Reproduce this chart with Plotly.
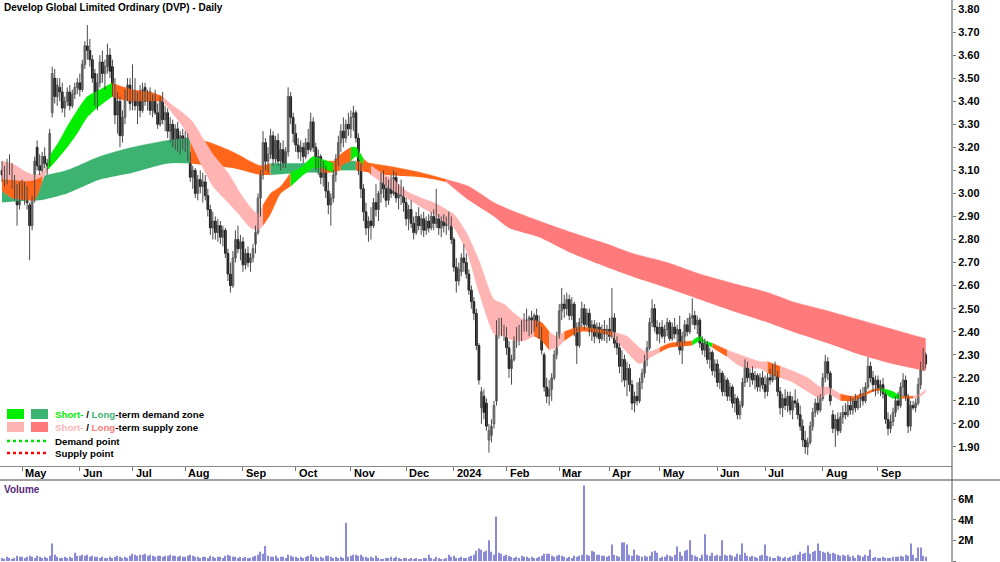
import numpy as np
import pandas as pd
import plotly.graph_objects as go

TITLE = "Develop Global Limited Ordinary (DVP) - Daily"
FIRST_DAY, LAST_DAY = "2023-04-18", "2024-09-27"
ASX_HOLIDAYS = ["2023-04-25", "2023-06-12", "2023-12-25", "2023-12-26", "2024-01-01",
                "2024-01-26", "2024-03-29", "2024-04-01", "2024-04-25", "2024-06-10"]

# ---------------- daily OHLC (A$), one line per month ----------------
OPEN = [
    3.10,3.08,3.05,3.12,3.10,3.04,3.00,2.95,
    3.02,3.00,3.02,2.95,2.86,2.97,3.20,3.12,3.10,3.16,3.13,3.13,3.35,3.50,3.42,3.46,3.44,3.37,3.40,3.44,3.38,3.43,3.46,
    3.48,3.45,3.56,3.64,3.62,3.58,3.52,3.42,3.48,3.57,3.52,3.55,3.60,3.55,3.45,3.34,3.40,3.25,3.33,3.42,3.47,
    3.40,3.44,3.38,3.42,3.36,3.46,3.40,3.44,3.36,3.42,3.35,3.30,3.40,3.32,3.35,3.27,3.30,3.23,3.28,3.21,3.25,
    3.22,3.24,3.16,3.07,3.10,3.00,3.06,3.03,3.05,2.99,2.93,2.85,2.88,2.83,2.86,2.81,2.84,2.74,2.65,2.60,2.72,2.80,2.76,
    2.79,2.69,2.74,2.70,2.72,2.78,2.83,2.98,3.08,3.22,3.14,3.17,3.25,3.15,3.23,3.14,3.19,3.13,3.18,3.42,3.33,
    3.26,3.21,3.18,3.20,3.16,3.22,3.19,3.31,3.20,3.12,3.16,3.07,3.10,3.01,2.95,2.98,3.08,3.15,3.22,3.27,3.24,3.30,
    3.28,3.33,3.35,3.24,3.10,3.02,2.92,2.85,2.88,2.86,2.96,2.93,3.00,3.05,3.02,2.97,3.04,3.00,3.07,2.98,3.02,2.99,
    2.96,2.89,2.93,2.87,2.83,2.90,2.86,2.89,2.84,2.88,2.85,2.90,2.87,2.89,2.85,2.88,2.86,2.89,2.88,
    2.80,2.68,2.62,2.66,2.72,2.70,2.65,2.58,2.53,2.48,2.34,2.07,2.12,2.09,1.93,1.95,2.00,2.10,2.42,2.44,2.40,
    2.41,2.33,2.24,2.28,2.36,2.40,2.37,2.43,2.45,2.42,2.46,2.41,2.47,2.44,2.39,2.30,2.16,2.12,2.15,2.20,2.30,
    2.38,2.49,2.52,2.50,2.54,2.47,2.52,2.40,2.34,2.44,2.50,2.43,2.48,2.40,2.43,2.38,2.42,2.37,2.41,2.39,
    2.41,2.38,2.46,2.35,2.33,2.25,2.28,2.19,2.24,2.17,2.09,2.12,2.10,2.18,2.22,2.28,2.33,2.44,2.50,2.42,
    2.39,2.42,2.38,2.41,2.44,2.37,2.42,2.39,2.41,2.32,2.38,2.43,2.40,2.46,2.47,2.43,2.45,2.35,2.32,2.35,2.28,2.31,2.23,
    2.26,2.18,2.22,2.14,2.19,2.12,2.16,2.09,2.11,2.04,2.08,2.18,2.25,2.20,2.22,2.19,2.21,2.16,2.20,
    2.17,2.14,2.20,2.19,2.24,2.21,2.14,2.07,2.11,2.08,2.12,2.06,2.10,2.09,2.04,1.99,1.93,1.90,1.92,1.99,2.05,2.09,2.06,
    2.11,2.20,2.27,2.22,2.04,1.98,2.02,1.97,2.03,2.05,2.04,2.08,2.06,2.10,2.07,2.11,2.13,2.10,2.16,2.25,2.20,2.17,
    2.19,2.15,2.17,2.13,2.02,1.98,2.01,2.05,2.10,2.08,2.16,2.19,2.12,1.99,2.08,2.07,2.09,2.17,2.25,2.30,
]
HIGH = [
    3.14,3.12,3.15,3.17,3.13,3.08,3.04,3.05,
    3.06,3.05,3.03,2.96,2.99,3.16,3.23,3.17,3.18,3.20,3.15,3.28,3.55,3.54,3.50,3.50,3.48,3.42,3.46,3.47,3.45,3.48,3.50,
    3.52,3.58,3.66,3.73,3.67,3.60,3.54,3.52,3.60,3.62,3.58,3.65,3.63,3.58,3.50,3.44,3.42,3.36,3.45,3.50,3.50,
    3.56,3.50,3.44,3.47,3.48,3.48,3.45,3.46,3.43,3.45,3.39,3.42,3.44,3.38,3.37,3.33,3.32,3.30,3.31,3.27,3.28,
    3.27,3.26,3.18,3.12,3.11,3.08,3.10,3.09,3.08,3.02,2.95,2.92,2.90,2.89,2.88,2.86,2.85,2.76,2.70,2.75,2.84,2.86,2.82,
    2.81,2.76,2.77,2.74,2.78,2.86,3.00,3.10,3.27,3.24,3.20,3.28,3.27,3.25,3.26,3.22,3.23,3.20,3.46,3.44,3.35,
    3.30,3.24,3.23,3.22,3.24,3.28,3.35,3.33,3.22,3.19,3.17,3.14,3.12,3.05,3.00,3.10,3.17,3.25,3.30,3.33,3.32,3.35,
    3.36,3.38,3.36,3.26,3.13,3.04,2.96,2.90,2.94,2.98,3.04,3.01,3.09,3.10,3.07,3.06,3.08,3.10,3.09,3.04,3.06,3.03,
    2.98,2.95,2.97,2.90,2.92,2.94,2.91,2.92,2.90,2.91,2.92,2.93,3.02,2.91,2.90,2.91,2.90,2.92,2.90,
    2.81,2.72,2.70,2.74,2.78,2.74,2.67,2.60,2.55,2.50,2.35,2.16,2.15,2.11,2.00,2.02,2.10,2.45,2.46,2.46,2.43,
    2.42,2.36,2.30,2.38,2.42,2.43,2.45,2.48,2.50,2.47,2.49,2.48,2.50,2.47,2.42,2.31,2.20,2.19,2.22,2.32,2.40,
    2.52,2.59,2.56,2.57,2.56,2.55,2.53,2.44,2.46,2.53,2.52,2.50,2.50,2.45,2.45,2.44,2.44,2.43,2.45,2.43,
    2.46,2.59,2.48,2.38,2.35,2.32,2.30,2.27,2.26,2.19,2.14,2.18,2.20,2.24,2.30,2.36,2.46,2.54,2.52,2.45,
    2.44,2.45,2.43,2.46,2.45,2.44,2.46,2.43,2.47,2.40,2.45,2.46,2.48,2.545,2.49,2.47,2.46,2.38,2.37,2.36,2.33,2.32,2.28,
    2.28,2.24,2.23,2.21,2.20,2.18,2.17,2.13,2.12,2.10,2.20,2.28,2.27,2.24,2.25,2.23,2.22,2.22,2.23,
    2.21,2.22,2.24,2.26,2.27,2.23,2.16,2.13,2.15,2.14,2.14,2.12,2.15,2.11,2.08,2.02,1.97,1.94,2.01,2.07,2.11,2.12,2.13,
    2.22,2.30,2.29,2.23,2.06,2.04,2.05,2.05,2.08,2.09,2.10,2.12,2.11,2.13,2.12,2.15,2.16,2.18,2.29,2.27,2.23,2.21,
    2.21,2.19,2.20,2.14,2.05,2.04,2.07,2.12,2.14,2.18,2.22,2.21,2.13,2.10,2.10,2.11,2.20,2.27,2.33,2.31,
]
LOW = [
    3.05,3.03,3.04,3.08,3.02,2.97,2.86,2.93,
    2.97,2.95,2.93,2.71,2.84,2.96,3.10,3.08,3.09,3.11,3.08,3.12,3.33,3.39,3.38,3.40,3.35,3.33,3.38,3.36,3.37,3.41,3.43,
    3.42,3.44,3.54,3.58,3.55,3.48,3.38,3.36,3.46,3.48,3.45,3.52,3.50,3.42,3.30,3.26,3.20,3.22,3.30,3.40,3.36,
    3.36,3.36,3.30,3.33,3.35,3.38,3.36,3.34,3.33,3.34,3.28,3.29,3.30,3.27,3.24,3.22,3.20,3.19,3.18,3.17,3.19,
    3.18,3.14,3.05,3.02,2.98,2.97,3.00,2.96,2.97,2.90,2.82,2.80,2.80,2.79,2.78,2.77,2.72,2.62,2.57,2.59,2.70,2.74,2.71,
    2.66,2.67,2.68,2.66,2.70,2.74,2.82,2.90,3.06,3.10,3.09,3.15,3.12,3.13,3.12,3.10,3.11,3.11,3.16,3.30,3.22,
    3.18,3.15,3.14,3.13,3.15,3.17,3.18,3.18,3.10,3.08,3.04,3.03,2.98,2.91,2.86,2.96,3.05,3.12,3.18,3.20,3.22,3.25,
    3.24,3.27,3.22,3.08,2.98,2.88,2.82,2.79,2.80,2.85,2.90,2.88,2.96,2.98,2.94,2.95,2.98,2.99,2.96,2.93,2.95,2.92,
    2.86,2.84,2.85,2.80,2.82,2.84,2.82,2.81,2.82,2.83,2.84,2.84,2.85,2.82,2.81,2.83,2.82,2.84,2.78,
    2.66,2.57,2.60,2.64,2.66,2.63,2.56,2.50,2.45,2.32,2.17,2.00,2.02,1.97,1.875,1.92,1.98,2.08,2.37,2.38,2.36,
    2.30,2.20,2.17,2.27,2.33,2.34,2.36,2.40,2.40,2.38,2.39,2.40,2.42,2.37,2.30,2.14,2.09,2.08,2.10,2.19,2.28,
    2.37,2.45,2.46,2.47,2.45,2.45,2.38,2.26,2.33,2.42,2.41,2.42,2.38,2.36,2.35,2.37,2.35,2.36,2.36,2.35,
    2.36,2.37,2.33,2.30,2.22,2.18,2.16,2.12,2.14,2.06,2.05,2.08,2.09,2.15,2.20,2.25,2.32,2.42,2.40,2.36,
    2.35,2.37,2.35,2.38,2.36,2.36,2.37,2.34,2.30,2.26,2.35,2.38,2.39,2.43,2.41,2.39,2.33,2.30,2.29,2.26,2.24,2.21,2.20,
    2.16,2.15,2.12,2.12,2.10,2.10,2.07,2.05,2.02,2.02,2.07,2.16,2.18,2.16,2.17,2.15,2.14,2.14,2.15,
    2.11,2.12,2.17,2.18,2.19,2.12,2.04,2.03,2.06,2.05,2.04,2.02,2.07,2.02,1.97,1.90,1.87,1.865,1.91,1.97,2.03,2.04,2.05,
    2.10,2.18,2.19,2.08,1.96,1.90,1.95,1.96,2.00,2.02,2.03,2.04,2.04,2.05,2.06,2.07,2.08,2.09,2.15,2.18,2.14,2.12,
    2.13,2.12,2.11,2.00,1.95,1.96,1.99,2.03,2.06,2.07,2.12,2.10,1.96,1.97,2.06,2.05,2.08,2.15,2.23,2.24,
]
CLOSE = [
    3.08,3.05,3.13,3.10,3.04,3.00,2.95,3.02,
    3.00,3.03,2.96,2.86,2.97,3.14,3.12,3.10,3.16,3.13,3.12,3.26,3.52,3.42,3.47,3.44,3.37,3.40,3.44,3.38,3.43,3.46,3.48,
    3.45,3.56,3.64,3.62,3.58,3.50,3.42,3.48,3.57,3.52,3.55,3.60,3.53,3.45,3.34,3.40,3.25,3.33,3.42,3.47,3.39,
    3.44,3.38,3.42,3.36,3.45,3.40,3.43,3.36,3.41,3.35,3.30,3.40,3.32,3.35,3.27,3.30,3.23,3.28,3.21,3.25,3.22,
    3.24,3.16,3.07,3.10,3.00,3.06,3.03,3.05,2.99,2.93,2.85,2.88,2.83,2.86,2.81,2.84,2.74,2.65,2.60,2.72,2.80,2.76,2.79,
    2.69,2.74,2.70,2.72,2.76,2.83,2.98,3.08,3.22,3.14,3.17,3.25,3.15,3.23,3.14,3.19,3.13,3.18,3.42,3.33,3.26,
    3.21,3.18,3.20,3.16,3.22,3.19,3.31,3.20,3.12,3.16,3.07,3.10,3.01,2.95,2.98,3.08,3.15,3.22,3.27,3.24,3.30,3.28,
    3.33,3.35,3.24,3.10,3.02,2.92,2.85,2.88,2.86,2.96,2.93,3.00,3.05,3.02,2.97,3.04,3.00,3.07,2.98,3.02,2.99,2.96,
    2.89,2.93,2.87,2.83,2.90,2.86,2.89,2.84,2.88,2.85,2.90,2.87,2.89,2.85,2.88,2.86,2.89,2.88,2.80,
    2.68,2.62,2.67,2.72,2.70,2.65,2.58,2.53,2.48,2.34,2.19,2.14,2.05,1.99,1.97,1.99,2.08,2.42,2.44,2.40,2.41,
    2.33,2.24,2.28,2.36,2.40,2.37,2.43,2.45,2.42,2.46,2.41,2.47,2.44,2.39,2.32,2.16,2.12,2.15,2.20,2.30,2.38,
    2.49,2.52,2.50,2.54,2.47,2.52,2.40,2.34,2.44,2.50,2.43,2.48,2.40,2.43,2.38,2.42,2.37,2.41,2.39,2.41,
    2.38,2.46,2.35,2.33,2.25,2.28,2.19,2.24,2.17,2.09,2.12,2.10,2.18,2.22,2.28,2.33,2.44,2.50,2.42,2.39,
    2.42,2.38,2.41,2.44,2.37,2.42,2.39,2.41,2.32,2.38,2.43,2.40,2.46,2.47,2.43,2.45,2.35,2.32,2.35,2.28,2.31,2.23,2.26,
    2.18,2.22,2.14,2.19,2.12,2.16,2.09,2.11,2.04,2.08,2.18,2.25,2.20,2.22,2.19,2.21,2.16,2.20,2.17,
    2.14,2.20,2.19,2.24,2.21,2.14,2.07,2.11,2.08,2.12,2.06,2.10,2.09,2.04,1.99,1.93,1.90,1.92,1.99,2.05,2.09,2.06,2.11,
    2.20,2.27,2.22,2.10,1.98,2.02,1.97,2.03,2.05,2.04,2.08,2.06,2.10,2.07,2.11,2.13,2.10,2.16,2.25,2.20,2.17,2.19,
    2.15,2.17,2.13,2.02,1.98,2.01,2.05,2.10,2.08,2.16,2.19,2.12,1.99,2.08,2.07,2.09,2.17,2.25,2.30,2.26,
]
VOLUME_M = [  # millions of shares
    0.3,0.2,0.4,0.3,0.2,0.3,0.5,0.4,
    0.4,0.3,0.4,0.5,0.4,0.3,0.5,0.4,0.3,0.4,0.3,0.5,1.7,0.6,0.4,0.3,0.3,0.4,0.3,0.4,0.3,0.8,0.5,
    0.5,0.6,0.5,0.6,0.4,0.5,0.4,0.4,0.3,0.4,0.3,0.3,0.4,0.3,0.4,0.5,0.4,0.3,0.4,0.3,0.5,
    0.7,0.6,0.5,0.6,0.6,0.7,0.5,0.6,0.5,0.4,0.5,0.5,0.4,0.5,0.5,0.6,0.5,0.5,0.4,0.5,0.4,
    0.4,0.5,0.6,0.5,0.4,0.4,0.3,0.4,0.4,0.3,0.5,0.4,0.3,0.4,0.4,0.3,0.5,0.6,0.5,0.4,0.4,0.3,0.4,
    0.3,0.4,0.3,0.3,0.4,0.5,0.6,0.9,0.7,1.45,0.5,0.4,0.4,0.5,0.3,0.4,0.4,0.3,0.6,0.5,0.4,
    0.4,0.3,0.4,0.3,0.4,0.5,0.65,0.4,0.4,0.3,0.4,0.3,0.5,0.5,0.4,0.3,0.4,0.3,0.4,0.3,3.7,0.4,
    0.5,0.6,0.6,0.5,0.6,0.4,0.4,0.3,0.4,0.3,0.5,0.3,0.2,0.2,0.3,0.3,0.4,0.3,0.4,0.3,0.2,0.3,
    0.3,0.2,0.3,0.2,0.3,0.2,0.2,0.3,0.3,0.6,0.3,0.2,0.4,0.3,0.2,0.2,0.3,0.6,0.4,
    0.5,0.3,0.3,0.4,0.3,0.3,0.4,0.5,0.6,1.0,1.2,1.1,0.9,1.0,2.0,0.9,0.6,4.3,0.8,0.7,0.5,
    0.6,0.5,0.4,0.3,0.4,0.3,0.5,0.4,0.4,0.3,0.4,0.3,0.3,0.4,0.5,0.7,0.7,0.7,0.5,0.4,0.5,
    0.6,0.5,0.4,0.3,0.4,0.3,0.5,0.4,0.5,0.6,7.3,0.6,0.5,1.0,0.9,0.6,0.6,0.5,0.5,0.4,
    0.5,1.6,0.6,0.5,0.4,1.8,1.8,1.6,0.6,0.5,1.1,0.6,0.5,0.4,0.5,0.4,0.5,0.9,1.0,0.8,
    0.3,0.4,0.4,0.6,0.5,0.4,0.6,1.4,0.9,0.5,1.0,1.1,2.0,0.6,0.5,0.4,0.3,0.6,2.6,0.6,0.5,0.8,0.5,
    0.6,0.5,2.0,0.6,0.5,0.6,0.5,0.4,0.7,0.6,1.7,0.8,0.5,0.4,0.5,0.4,0.3,0.5,0.6,
    1.6,0.5,0.4,0.3,0.3,0.5,0.4,0.3,0.4,0.3,0.4,0.5,0.6,0.6,0.9,0.7,0.8,1.5,0.7,0.9,1.0,1.7,1.0,
    0.9,0.8,0.9,0.7,0.8,0.7,0.6,0.5,0.6,0.5,0.6,0.4,0.5,0.3,0.6,0.5,0.4,0.6,0.5,1.1,0.3,0.4,
    0.3,0.3,0.4,0.3,0.3,0.3,0.4,0.4,0.4,0.5,0.4,0.6,0.5,1.7,0.6,0.3,1.3,1.3,0.5,0.4,
]

# ---------------- trend zones (bar number, upper, lower, state) ----------------
# states: g = short-term demand, p = short-term supply, o = transition (orange)
SHORT_BAR = [0,4,10,13,16,18,19,23,26,30,34,39,44,46,52,59,64,67,72,76,80,84,90,95,99,102,104,107,111,115,
             119,124,127,132,135,139,141,144,147,151,156,161,167,172,177,180,185,190,196,200,204,208,212,215,
             218,221,224,230,238,243,249,254,257,262,266,275,278,280,283,289,294,299,302,305,310,315,321,326,
             329,334,339,345,347,350,352,355,358,363,366,368]
SHORT_UP = [3.14,3.13,3.09,3.08,3.09,3.12,3.16,3.23,3.29,3.36,3.42,3.45,3.48,3.47,3.45,3.44,3.42,3.39,3.35,3.31,
            3.24,3.17,3.09,3.00,2.94,2.91,2.95,3.00,3.03,3.09,3.11,3.16,3.15,3.13,3.17,3.20,3.20,3.15,3.12,3.09,
            3.06,3.01,2.98,2.96,2.93,2.91,2.83,2.71,2.54,2.52,2.48,2.45,2.45,2.44,2.40,2.38,2.40,2.42,2.41,2.40,
            2.38,2.33,2.31,2.33,2.35,2.36,2.38,2.36,2.35,2.32,2.30,2.28,2.27,2.27,2.25,2.23,2.20,2.16,2.16,2.13,
            2.12,2.14,2.15,2.155,2.15,2.14,2.12,2.12,2.13,2.15]
SHORT_LO = [3.01,2.98,2.97,2.97,3.05,3.10,3.11,3.16,3.20,3.26,3.33,3.38,3.42,3.41,3.40,3.40,3.40,3.36,3.29,3.20,
            3.11,3.03,2.96,2.90,2.85,2.84,2.86,2.91,3.00,3.03,3.07,3.11,3.11,3.09,3.12,3.14,3.16,3.12,3.08,3.05,
            3.01,2.98,2.94,2.91,2.87,2.85,2.75,2.57,2.39,2.38,2.36,2.36,2.38,2.36,2.32,2.33,2.36,2.40,2.395,2.38,
            2.31,2.26,2.28,2.31,2.33,2.34,2.36,2.35,2.33,2.29,2.25,2.24,2.24,2.22,2.20,2.18,2.14,2.11,2.13,2.10,
            2.10,2.13,2.14,2.145,2.13,2.11,2.11,2.11,2.12,2.14]
SHORT_STATE = "pppppgggggggooooppppppppppoooggggooggoppppppppppppppooppoooppppoogggoppppopppppoooogggoppoogg"

# states: G = long-term demand, R = long-term supply, O = transition (orange)
LONG_BAR = [0,12,15,26,39,52,66,75,83,92,103,107,119,127,131,135,141,153,167,177,186,196,202,214,227,241,
            251,265,278,291,305,315,329,342,355,368]
LONG_UP = [3.06,3.05,3.07,3.10,3.16,3.20,3.23,3.24,3.22,3.18,3.12,3.13,3.13,3.14,3.14,3.14,3.14,3.12,3.09,3.06,
           3.03,2.96,2.93,2.88,2.83,2.78,2.74,2.70,2.65,2.61,2.57,2.53,2.49,2.45,2.41,2.37]
LONG_LO = [2.96,2.97,2.97,3.00,3.06,3.09,3.13,3.13,3.12,3.11,3.08,3.08,3.09,3.09,3.09,3.10,3.10,3.08,3.07,3.05,
           2.97,2.90,2.85,2.81,2.74,2.68,2.64,2.59,2.54,2.49,2.44,2.40,2.35,2.30,2.26,2.23]
LONG_STATE = "GGGGGGGOOOOGGOOGOOORRRRRRRRRRRRRRRRR"

PRICE_TICKS = [round(1.9 + 0.1 * k, 2) for k in range(20)]
VOL_TICKS = [0, 2, 4, 6]
VOL_TICK_TEXT = ["0", "2M", "4M", "6M"]

# ---------------- colours ----------------
C_SHORT = {"g": "#00ee00", "p": "#ffb4b4", "o": "#ff661a"}
C_LONG = {"G": "#3cb371", "R": "#ff7b7b", "O": "#ff661a"}
C_OVERLAP = "#ff661a"
C_VOL = "#8a8ad6"
FONT = "Liberation Sans, Arial, sans-serif"

W, H = 1000, 562
PRICE_BOTTOM_PX, VOL_TOP_PX, AXIS_X_PX = 466, 480, 952
X0_PX, BAR_PX = 2.0, 2.51


def py(pix):
    return 1 - pix / H


def pxx(pix):
    return pix / W


# ---------------- dates ----------------
days = pd.bdate_range(FIRST_DAY, LAST_DAY)
days = days[~days.isin(pd.to_datetime(ASX_HOLIDAYS))]
n = min(len(days), len(CLOSE), len(OPEN), len(HIGH), len(LOW), len(VOLUME_M))
days = days[:n]
xs = np.arange(n)
o_, h_, l_, c_ = (np.array(a[:n], float) for a in (OPEN, HIGH, LOW, CLOSE))

month_idx, month_lab = [], []
for i in range(n):
    if i > 0 and days[i].month != days[i - 1].month:
        month_idx.append(i)
        month_lab.append(str(days[i].year) if days[i].month == 1 else days[i].strftime("%b"))

fig = go.Figure()


def runs(states):
    out = []
    i, m = 0, len(states)
    while i < m - 1:
        j = i
        while j + 1 < m and states[j + 1] == states[i]:
            j += 1
        out.append((i, min(j + 1, m - 1), states[i]))
        i = j + 1
    return out


def band(bars, up, lo, a, b, color):
    fig.add_trace(go.Scatter(x=bars[a:b + 1], y=lo[a:b + 1], mode="lines",
                             line=dict(width=0, shape="spline", smoothing=0.6, color=color),
                             hoverinfo="skip", showlegend=False, xaxis="x", yaxis="y"))
    fig.add_trace(go.Scatter(x=bars[a:b + 1], y=up[a:b + 1], mode="lines", fill="tonexty",
                             fillcolor=color,
                             line=dict(width=0.5, shape="spline", smoothing=0.6, color=color),
                             hoverinfo="skip", showlegend=False, xaxis="x", yaxis="y"))


# long-term zone
for a, b, s in runs(LONG_STATE):
    band(LONG_BAR, LONG_UP, LONG_LO, a, b, C_LONG[s])
# short-term zone
for a, b, s in runs(SHORT_STATE):
    band(SHORT_BAR, SHORT_UP, SHORT_LO, a, b, C_SHORT[s])

# overlap of short-term supply with long-term demand is drawn orange
lb = np.array(LONG_BAR, float)
ov_bar, ov_up, ov_lo = [], [], []
segs = []
for k, bar in enumerate(SHORT_BAR):
    li = int(np.searchsorted(lb, bar, side="right") - 1)
    lu = np.interp(bar, lb, LONG_UP)
    ll = np.interp(bar, lb, LONG_LO)
    u, l = min(SHORT_UP[k], lu), max(SHORT_LO[k], ll)
    if SHORT_STATE[k] == "p" and LONG_STATE[li] == "G" and u > l:
        ov_bar.append(bar); ov_up.append(u); ov_lo.append(l)
    elif ov_bar:
        segs.append((ov_bar, ov_up, ov_lo)); ov_bar, ov_up, ov_lo = [], [], []
if ov_bar:
    segs.append((ov_bar, ov_up, ov_lo))
for bb, uu, ll in segs:
    if len(bb) > 1:
        band(bb, uu, ll, 0, len(bb) - 1, C_OVERLAP)

# ---------------- candles: wicks + bodies ----------------
wx, wy = [], []
for i in range(n):
    wx += [i, i, None]
    wy += [l_[i], h_[i], None]
fig.add_trace(go.Scatter(x=wx, y=wy, mode="lines", line=dict(color="#4a4a4a", width=1),
                         hoverinfo="skip", showlegend=False, xaxis="x", yaxis="y"))
up = c_ >= o_
for mask, fill, edge in [(up, "#c4c4c4", "#555555"), (~up, "#000000", "#000000")]:
    idx = xs[mask]
    base = np.minimum(o_, c_)[mask]
    hgt = np.maximum(np.abs(c_ - o_)[mask], 0.004)
    fig.add_trace(go.Bar(x=idx, y=hgt, base=base, width=0.72,
                         marker=dict(color=fill, line=dict(color=edge, width=0.8)),
                         hoverinfo="skip", showlegend=False, xaxis="x", yaxis="y"))

# volume
fig.add_trace(go.Bar(x=xs, y=VOLUME_M[:n], width=0.45, marker=dict(color=C_VOL, line=dict(width=0)),
                     hoverinfo="skip", showlegend=False, xaxis="x2", yaxis="y2"))

# ---------------- axes ----------------
x_lo = -X0_PX / BAR_PX
x_hi = (AXIS_X_PX - X0_PX) / BAR_PX
p_top = 3.80 + 9 / 230.5
p_bot = 3.80 - (PRICE_BOTTOM_PX - 9) / 230.5
v_per_px = 1 / 10.33
v_top = (561 - VOL_TOP_PX) * v_per_px
v_bot = -(H - 561) * v_per_px

fig.update_layout(
    width=W, height=H, margin=dict(l=0, r=0, t=0, b=0),
    paper_bgcolor="white", plot_bgcolor="white", showlegend=False, barmode="overlay",
    font=dict(family=FONT, size=11, color="#000000"),
    xaxis=dict(domain=[0, pxx(AXIS_X_PX)], range=[x_lo, x_hi], anchor="y",
               showgrid=False, zeroline=False, showticklabels=False,
               tickvals=month_idx, ticks="outside", ticklen=4, tickcolor="#777777",
               showline=True, linecolor="#8a8a8a", linewidth=1,
               rangeslider=dict(visible=False)),
    yaxis=dict(domain=[py(PRICE_BOTTOM_PX), 1], range=[p_bot, p_top], side="right", anchor="x",
               showgrid=False, zeroline=False, tickvals=PRICE_TICKS,
               ticktext=[f"<b>{v:.2f}</b>" for v in PRICE_TICKS],
               ticks="outside", ticklen=3, tickcolor="#777777", showline=False,
               tickfont=dict(family=FONT, size=11, color="#000000")),
    xaxis2=dict(domain=[0, pxx(AXIS_X_PX)], range=[x_lo, x_hi], anchor="y2",
                showgrid=False, zeroline=False, showticklabels=False, ticks="", showline=False),
    yaxis2=dict(domain=[0, py(VOL_TOP_PX)], range=[v_bot, v_top], side="right", anchor="x2",
                showgrid=False, zeroline=False, tickvals=VOL_TICKS,
                ticktext=[f"<b>{t}</b>" for t in VOL_TICK_TEXT],
                ticks="outside", ticklen=3, tickcolor="#777777", showline=False,
                tickfont=dict(family=FONT, size=11, color="#000000")),
)

shapes = [
    dict(type="line", xref="paper", yref="paper", x0=pxx(AXIS_X_PX), x1=pxx(AXIS_X_PX), y0=0, y1=1,
         line=dict(color="#555555", width=1)),
    dict(type="line", xref="paper", yref="paper", x0=0, x1=1, y0=py(VOL_TOP_PX), y1=py(VOL_TOP_PX),
         line=dict(color="#444444", width=1)),
]
# legend swatches
for row, (c1, c2) in enumerate([(C_SHORT["g"], C_LONG["G"]), (C_SHORT["p"], C_LONG["R"])]):
    y0, y1 = 409 + row * 13, 419 + row * 13
    for xa, xb, c in [(7, 24, c1), (31, 48, c2)]:
        shapes.append(dict(type="rect", xref="paper", yref="paper", x0=pxx(xa), x1=pxx(xb),
                           y0=py(y1), y1=py(y0), fillcolor=c, line=dict(width=0)))
for yy, c in [(441, "#00dd00"), (453, "#ff0000")]:
    shapes.append(dict(type="line", xref="paper", yref="paper", x0=pxx(7), x1=pxx(48), y0=py(yy), y1=py(yy),
                       line=dict(color=c, width=2.5, dash="dot")))
fig.update_layout(shapes=shapes)

ann = []


def label(x, y, text, size=10, color="#000000", xanchor="left"):
    ann.append(dict(x=pxx(x), y=py(y), xref="paper", yref="paper", text=f"<b>{text}</b>", showarrow=False,
                    xanchor=xanchor, yanchor="middle", font=dict(family=FONT, size=size, color=color)))


label(2, 8, TITLE, size=10)
label(2, 489, "Volume", size=10, color="#55287a")
label(53, 414, f'<span style="color:{C_SHORT["g"]}">Short-</span> / '
               f'<span style="color:{C_LONG["G"]}">Long</span>-term demand zone', size=9.7)
label(53, 427, f'<span style="color:{C_SHORT["p"]}">Short-</span> / '
               f'<span style="color:{C_LONG["R"]}">Long</span>-term supply zone', size=9.7)
label(53, 441, "Demand point", size=9.7)
label(53, 453, "Supply point", size=9.7)
for i, lab in zip(month_idx, month_lab):
    ann.append(dict(x=i, y=py(473), xref="x", yref="paper", text=f"<b>{lab}</b>", showarrow=False,
                    xanchor="left", yanchor="middle", xshift=1,
                    font=dict(family=FONT, size=11, color="#000000")))
fig.update_layout(annotations=ann)

fig.write_html("out.html")
